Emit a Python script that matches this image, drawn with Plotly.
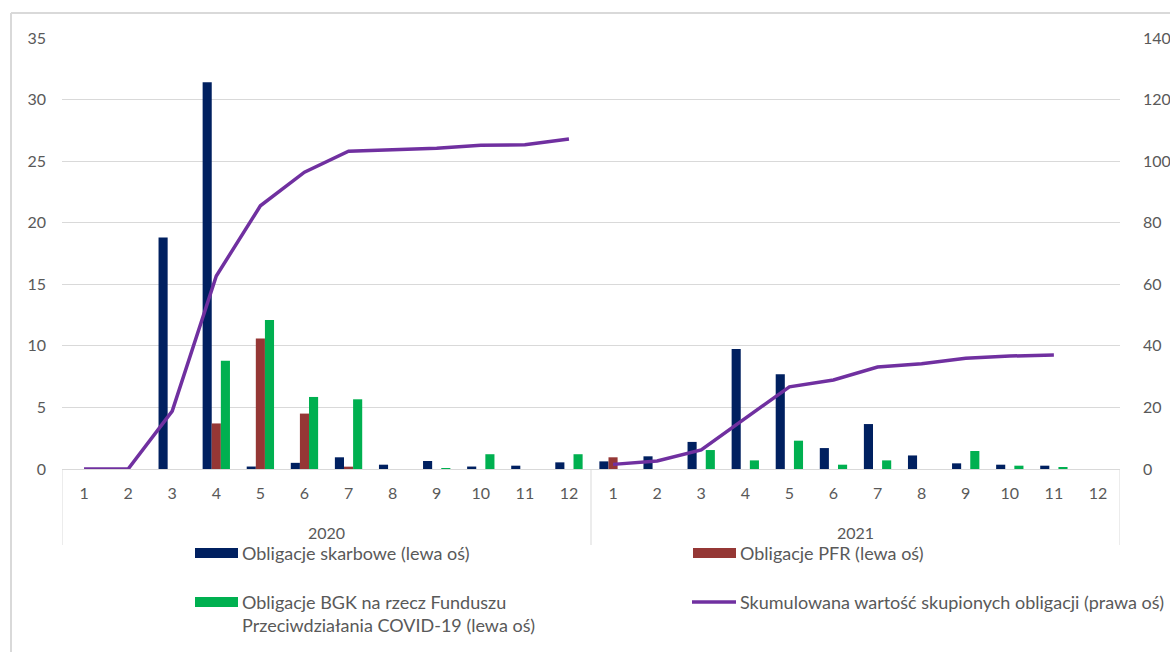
import plotly.graph_objects as go

# Monthly purchases (bn PLN), two years of 12 months each
years = ["2020", "2021"]
months = ["1", "2", "3", "4", "5", "6", "7", "8", "9", "10", "11", "12"]

skarbowe = [0, 0, 18.8, 31.4, 0.2, 0.5, 0.95, 0.35, 0.65, 0.2, 0.27, 0.54,
            0.62, 1.03, 2.2, 9.75, 7.7, 1.7, 3.65, 1.1, 0.46, 0.35, 0.27, None]
pfr = [0, 0, 0, 3.7, 10.6, 4.5, 0.19, 0, 0, 0, 0, 0,
       0.95, 0, 0, 0, 0, 0, 0, 0, 0, 0, 0, None]
bgk = [0, 0, 0, 8.8, 12.1, 5.85, 5.66, 0, 0.08, 1.2, 0, 1.2,
       0, 0, 1.54, 0.7, 2.3, 0.35, 0.7, 0, 1.46, 0.27, 0.1, None]

# Cumulative value of purchased bonds (right axis), restarting each year
cum_2020 = [0, 0, 18.8, 62.7, 85.5, 96.4, 103.2, 103.6, 104.2, 105.2, 105.3, 107.2]
cum_2021 = [1.5, 2.6, 6.2, 16.3, 26.7, 28.9, 33.1, 34.2, 36.0, 36.7, 37.0]

legend_labels = [
    "Obligacje skarbowe (lewa oś)",
    "Obligacje PFR (lewa oś)",
    "Obligacje BGK na rzecz Funduszu",
    "Przeciwdziałania COVID-19 (lewa oś)",
    "Skumulowana wartość skupionych obligacji (prawa oś)",
]

C_SKARB = "#002060"
C_PFR = "#953735"
C_BGK = "#00B050"
C_CUM = "#7030A0"
GRID = "#d9d9d9"
TXT = "#595959"
FONT = "Lato"

W, H = 1170, 652
L, R, T, B = 62, 50, 38, 183
PW, PH = W - L - R, H - T - B

idx = list(range(len(years) * len(months)))
tick_text = months * len(years)

fig = go.Figure()
for vals, col in [(skarbowe, C_SKARB), (pfr, C_PFR), (bgk, C_BGK)]:
    fig.add_trace(go.Bar(x=idx, y=vals, marker=dict(color=col, line=dict(width=0)),
                         showlegend=False, yaxis="y"))

fig.add_trace(go.Scatter(x=idx[:12], y=cum_2020, mode="lines", yaxis="y2",
                         line=dict(color=C_CUM, width=3.5), showlegend=False))
fig.add_trace(go.Scatter(x=idx[12:12 + len(cum_2021)], y=cum_2021, mode="lines", yaxis="y2",
                         line=dict(color=C_CUM, width=3.5), showlegend=False))


def px_x(p):
    return (p - L) / PW


def px_y(p):
    return (H - B - p) / PH


shapes = []
# outer chart frame (left and top edges)
shapes.append(dict(type="line", xref="paper", yref="paper", x0=px_x(11), x1=px_x(11),
                   y0=px_y(13), y1=px_y(660), line=dict(color=GRID, width=2)))
shapes.append(dict(type="line", xref="paper", yref="paper", x0=px_x(11), x1=px_x(1180),
                   y0=px_y(13), y1=px_y(13), line=dict(color=GRID, width=2)))
# year group separators below the category axis
for xv in [-0.5, 11.5, 23.5]:
    shapes.append(dict(type="line", xref="x", yref="paper", x0=xv, x1=xv,
                       y0=0, y1=px_y(545), line=dict(color=GRID, width=1)))

# legend swatches
shapes.append(dict(type="rect", xref="paper", yref="paper", x0=px_x(195), x1=px_x(238),
                   y0=px_y(548), y1=px_y(558), fillcolor=C_SKARB, line=dict(width=0)))
shapes.append(dict(type="rect", xref="paper", yref="paper", x0=px_x(693), x1=px_x(736),
                   y0=px_y(548), y1=px_y(558), fillcolor=C_PFR, line=dict(width=0)))
shapes.append(dict(type="rect", xref="paper", yref="paper", x0=px_x(195), x1=px_x(238),
                   y0=px_y(597), y1=px_y(607), fillcolor=C_BGK, line=dict(width=0)))
shapes.append(dict(type="line", xref="paper", yref="paper", x0=px_x(692), x1=px_x(736),
                   y0=px_y(602), y1=px_y(602), line=dict(color=C_CUM, width=3.5)))

annotations = []
for i, yr in enumerate(years):
    annotations.append(dict(text=yr, xref="x", yref="paper", x=i * 12 + 5.5, y=px_y(532),
                            showarrow=False, font=dict(family=FONT, size=16, color=TXT),
                            xanchor="center", yanchor="middle"))

leg_pos = [(240, 553), (738, 553), (240, 602), (240, 625), (738, 602)]
for txt, (lx, ly) in zip(legend_labels, leg_pos):
    annotations.append(dict(text=txt, xref="paper", yref="paper", x=px_x(lx), y=px_y(ly),
                            showarrow=False, font=dict(family=FONT, size=18, color=TXT),
                            xanchor="left", yanchor="middle"))

fig.update_layout(
    width=W, height=H,
    margin=dict(l=L, r=R, t=T, b=B),
    paper_bgcolor="white", plot_bgcolor="white",
    barmode="group", bargap=0.38, bargroupgap=0,
    font=dict(family=FONT, size=16, color=TXT),
    xaxis=dict(range=[-0.5, 23.5], tickmode="array", tickvals=idx, ticktext=tick_text,
               showgrid=False, showline=True, linecolor=GRID, linewidth=1,
               ticks="", ticklabelstandoff=10, zeroline=False, automargin=False,
               tickfont=dict(family=FONT, size=16, color=TXT)),
    yaxis=dict(range=[0, 35], dtick=5, showgrid=True, gridcolor=GRID, gridwidth=1,
               zeroline=False, showline=False, ticks="", ticklabelstandoff=15,
               automargin=False, tickfont=dict(family=FONT, size=16, color=TXT)),
    yaxis2=dict(range=[0, 140], dtick=20, overlaying="y", side="right", showgrid=False,
                zeroline=False, showline=False, ticks="", ticklabelstandoff=22,
                automargin=False, tickfont=dict(family=FONT, size=16, color=TXT)),
    shapes=shapes,
    annotations=annotations,
)

fig.write_html("out.html")
